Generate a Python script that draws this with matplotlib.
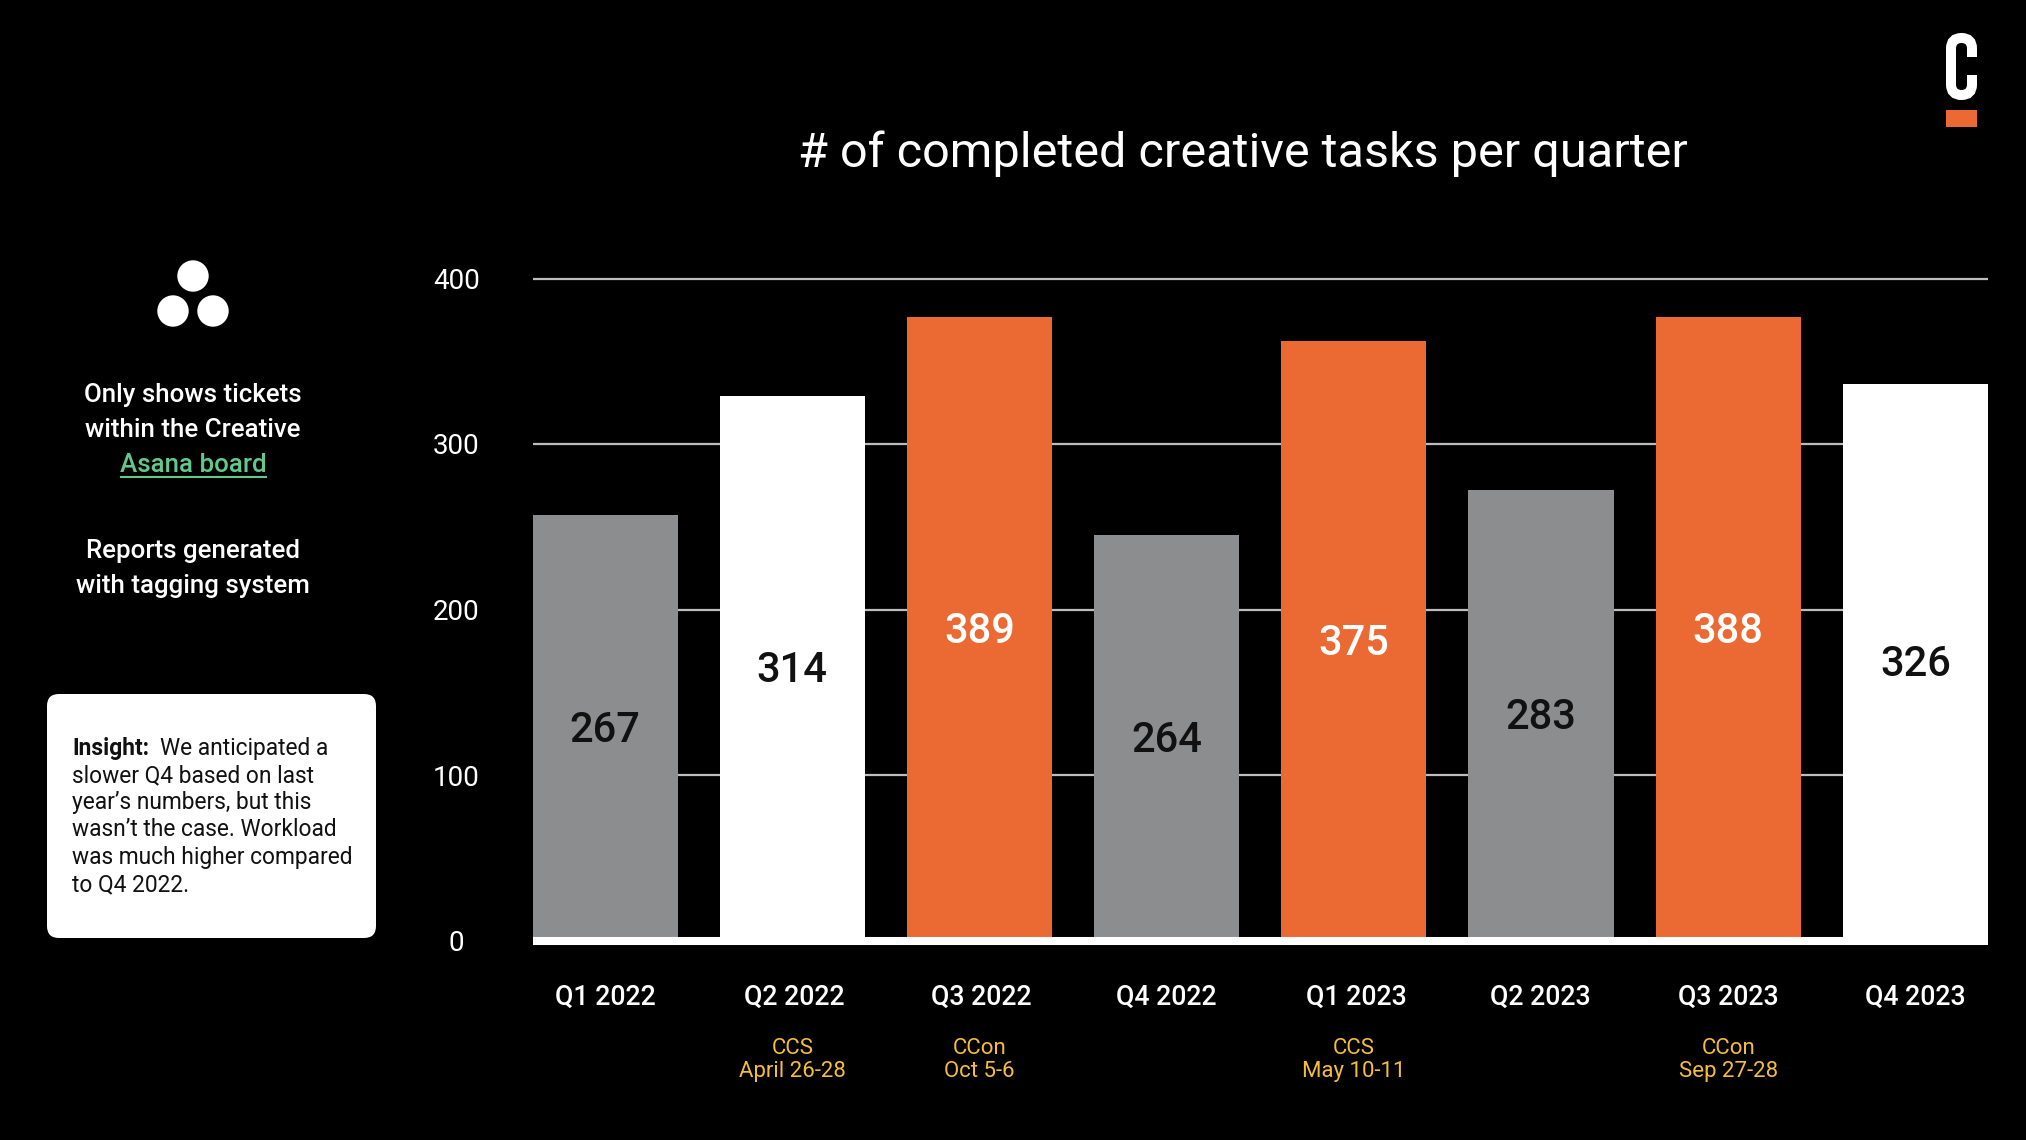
import matplotlib
matplotlib.use("Agg")
import matplotlib.pyplot as plt
import matplotlib.patches as mpatches
from matplotlib.path import Path
import numpy as np

BG     = "#000000"
WHITE  = "#FFFFFF"
GREY   = "#8C8D8E"
ORANGE = "#EB6A33"
GREEN  = "#62C98A"
YELLOW = "#F5BD3D"
GRID_C = "#BDBDBD"

plt.rcParams["font.family"] = ["Roboto", "DejaVu Sans"]

# ── Data ──────────────────────────────────────────────────────────────────────
quarters = ["Q1 2022", "Q2 2022", "Q3 2022", "Q4 2022",
            "Q1 2023", "Q2 2023", "Q3 2023", "Q4 2023"]
# bar heights as drawn against the axis (they do not match the printed numbers)
bar_heights = [257, 329, 377, 245, 362, 272, 377, 336]
printed     = [267, 314, 389, 264, 375, 283, 388, 326]
bar_colors  = [GREY, WHITE, ORANGE, GREY, ORANGE, GREY, ORANGE, WHITE]
label_colors = ["#111111", "#111111", WHITE, "#111111", WHITE, "#111111", WHITE, "#111111"]
events = ["", "CCS\nApril 26-28", "CCon\nOct 5-6", "",
          "CCS\nMay 10-11", "", "CCon\nSep 27-28", ""]
y_ticks = [0, 100, 200, 300, 400]
# the quarter labels sit a little off their bars in the original slide
label_nudge = [0, 0.012, 0.012, 0, 0.015, -0.005, 0, 0]

W, H = 2026, 1140
fig = plt.figure(figsize=(W / 100, H / 100), dpi=100)
fig.patch.set_facecolor(BG)

# ── Chart ─────────────────────────────────────────────────────────────────────
AX_L, AX_R, AX_T, AX_B = 532.5, 1988, 278.5, 940.5
ax = fig.add_axes([AX_L / W, 1 - AX_B / H, (AX_R - AX_L) / W, (AX_B - AX_T) / H])
ax.set_facecolor(BG)
x = np.arange(len(quarters))
bw = 0.776
bars = ax.bar(x, bar_heights, width=bw, color=bar_colors, zorder=3)
ax.set_xlim(-bw / 2, len(quarters) - 1 + bw / 2)
ax.set_ylim(0, 400)

labels = ax.bar_label(bars, labels=[str(v) for v in printed], label_type="center",
                      fontsize=30, fontweight="medium", zorder=5)
for lab, c in zip(labels, label_colors):
    lab.set_color(c)
    lab.xyann = (0, -1.8)

ax.set_yticks(y_ticks)
ax.set_yticklabels([str(v) for v in y_ticks], ha="center")
ax.tick_params(axis="y", length=0, pad=54.7, labelsize=20, labelcolor=WHITE)
ax.set_xticks(x + np.array(label_nudge))
ax.set_xticklabels(quarters, fontweight="medium")
ax.tick_params(axis="x", length=0, pad=31.5, labelsize=19.3, labelcolor=WHITE)
ax.grid(axis="y", color=GRID_C, linewidth=1.6, zorder=0, clip_on=False, solid_capstyle="butt")
ax.set_axisbelow(True)
for s in ["top", "right", "left"]:
    ax.spines[s].set_visible(False)
ax.spines["bottom"].set_color(WHITE)
ax.spines["bottom"].set_linewidth(5.8)
ax.spines["bottom"].set_capstyle("butt")
ax.spines["bottom"].set_zorder(4)

for xi, ev in zip(x, events):
    if ev:
        ax.annotate(ev, (xi, 0), xytext=(0, -97.5 * 0.72), textcoords="offset points",
                    ha="center", va="top", fontsize=16, color=YELLOW, linespacing=1.1)

# ── Overlay in pixel coordinates ──────────────────────────────────────────────
ov = fig.add_axes([0, 0, 1, 1], zorder=10)
ov.set_xlim(0, W)
ov.set_ylim(H, 0)
ov.axis("off")

ov.text(1243, 154, "# of completed creative tasks per quarter", ha="center", va="center",
        fontsize=35, color=WHITE)

# logo
c_path = Path(
    [(1972, 57), (1972, 48.5), (1972, 38), (1961.5, 38), (1951, 38), (1951, 48.5),
     (1951, 84.5), (1951, 95), (1961.5, 95), (1972, 95), (1972, 84.5), (1972, 75)],
    [Path.MOVETO, Path.LINETO, Path.CURVE3, Path.CURVE3, Path.CURVE3, Path.CURVE3,
     Path.LINETO, Path.CURVE3, Path.CURVE3, Path.CURVE3, Path.CURVE3, Path.LINETO])
ov.add_patch(mpatches.PathPatch(c_path, fill=False, edgecolor=WHITE, linewidth=7.2,
                                capstyle="butt"))
ov.add_patch(mpatches.Rectangle((1946, 110), 31, 17, color=ORANGE, linewidth=0))

# asana dots
for cx, cy in [(193, 276), (173, 311), (213, 311)]:
    ov.add_patch(mpatches.Circle((cx, cy), 15.7, color=WHITE, linewidth=0))

# side notes
for y, t, c in [(395, "Only shows tickets", WHITE), (430, "within the Creative", WHITE),
                (465.5, "Asana board", GREEN), (551, "Reports generated", WHITE),
                (586.5, "with tagging system", WHITE)]:
    ov.text(193, y, t, ha="center", va="center", fontsize=18.6, color=c, fontweight="medium")
ov.plot([121, 266], [477, 477], color=GREEN, linewidth=1.5)

# insight card
ov.add_patch(mpatches.FancyBboxPatch((59, 706), 305, 220, boxstyle="round,pad=12,rounding_size=12",
                                     facecolor=WHITE, edgecolor="none"))
ov.text(72.5, 749, "Insight:", ha="left", va="center", fontsize=16.4, color="#111111",
        fontweight="bold")
ov.text(160, 749, "We anticipated a", ha="left", va="center", fontsize=16.4, color="#111111")
for y, t in [(776, "slower Q4 based on last"), (803, "year\u2019s numbers, but this"),
             (830, "wasn\u2019t the case. Workload"), (857.5, "was much higher compared"),
             (884.5, "to Q4 2022.")]:
    ov.text(72.5, y, t, ha="left", va="center", fontsize=16.4, color="#111111")

fig.savefig("out.png", dpi=100, facecolor=BG)
